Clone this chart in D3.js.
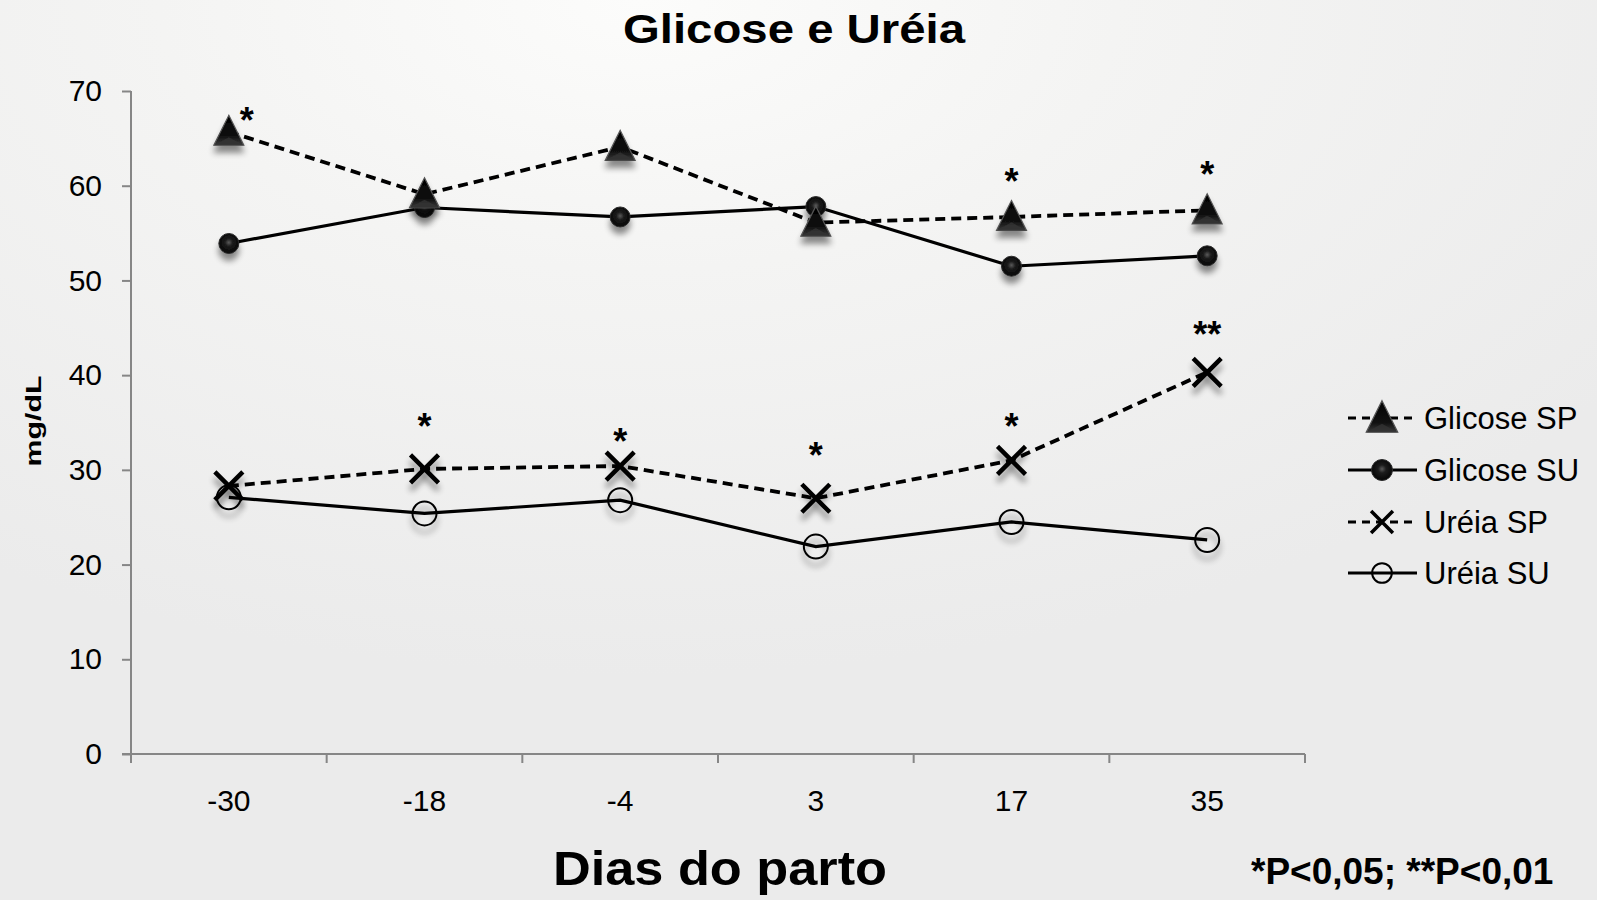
<!DOCTYPE html>
<html>
<head>
<meta charset="utf-8">
<script src="https://cdn.jsdelivr.net/npm/d3@7/dist/d3.min.js"></script>
<style>
  html, body { margin: 0; padding: 0; background: #ececec; }
  svg { display: block; }
  text { font-family: "Liberation Sans", Arial, Helvetica, sans-serif; fill: #000; }
</style>
</head>
<body>
<svg id="chart" width="1597" height="900"></svg>
<script>
// Days relative to calving
const days = ["-30", "-18", "-4", "3", "17", "35"];

// Mean concentrations (mg/dL)
const glicoseSP = [65.7, 59.1, 64.1, 56.1, 56.7, 57.4];
const glicoseSU = [53.9, 57.7, 56.7, 57.8, 51.5, 52.6];
const ureiaSP   = [28.3, 30.1, 30.4, 27.0, 31.0, 40.3];
const ureiaSU   = [27.1, 25.4, 26.8, 21.9, 24.5, 22.6];

const yTicks = [0, 10, 20, 30, 40, 50, 60, 70];

// Significance marks: day, height (mg/dL) and label
const sigDays   = ["-30", "17", "35", "-18", "-4", "3", "17", "35"];
const sigLevels = [67.6, 61.1, 61.9, 35.3, 33.7, 32.2, 35.3, 45.0];
const sigLabels = ["*", "*", "*", "*", "*", "*", "*", "**"];

const seriesNames = ["Glicose SP", "Glicose SU", "Uréia SP", "Uréia SU"];

const svg = d3.select("#chart");
const W = 1597, H = 900;

// ---- defs: background, marker shading, shadow ----
const defs = svg.append("defs");
const bg = defs.append("radialGradient").attr("id", "bg")
  .attr("cx", "40%").attr("cy", "0%").attr("r", "75%");
bg.append("stop").attr("offset", "0%").attr("stop-color", "#fcfcfb");
bg.append("stop").attr("offset", "40%").attr("stop-color", "#f4f4f3");
bg.append("stop").attr("offset", "100%").attr("stop-color", "#ebebeb");

const sphere = defs.append("radialGradient").attr("id", "sphere")
  .attr("cx", "50%").attr("cy", "45%").attr("r", "55%");
sphere.append("stop").attr("offset", "0%").attr("stop-color", "#5a5a5a");
sphere.append("stop").attr("offset", "35%").attr("stop-color", "#1c1c1c");
sphere.append("stop").attr("offset", "100%").attr("stop-color", "#050505");

const tri = defs.append("linearGradient").attr("id", "tri")
  .attr("x1", "0").attr("y1", "0").attr("x2", "0").attr("y2", "1");
tri.append("stop").attr("offset", "0%").attr("stop-color", "#000");
tri.append("stop").attr("offset", "70%").attr("stop-color", "#111");
tri.append("stop").attr("offset", "100%").attr("stop-color", "#3a3a3a");

const shadow = defs.append("filter").attr("id", "shadow")
  .attr("x", "-60%").attr("y", "-60%").attr("width", "220%").attr("height", "240%");
shadow.append("feGaussianBlur").attr("in", "SourceAlpha").attr("stdDeviation", 3.2).attr("result", "b");
shadow.append("feOffset").attr("in", "b").attr("dx", 0).attr("dy", 7).attr("result", "o");
shadow.append("feComponentTransfer").attr("in", "o").attr("result", "s")
  .append("feFuncA").attr("type", "linear").attr("slope", 0.45);
const merge = shadow.append("feMerge");
merge.append("feMergeNode").attr("in", "s");
merge.append("feMergeNode").attr("in", "SourceGraphic");

svg.append("rect").attr("width", W).attr("height", H).attr("fill", "url(#bg)");

// ---- scales ----
const x = d3.scaleBand().domain(days).range([131, 1305]).padding(0);
const y = d3.scaleLinear().domain([0, 70]).range([754, 91]);
const cx = d => x(d) + x.bandwidth() / 2;

// ---- axes ----
const axisColor = "#868686";
const yAxis = svg.append("g").attr("transform", "translate(131,0)")
  .call(d3.axisLeft(y).tickValues(yTicks).tickSize(9).tickPadding(20).tickFormat(d3.format("d")));
yAxis.select(".domain").attr("stroke", axisColor).attr("stroke-width", 2)
  .attr("d", `M0,${y(70)}V${y(0)}`);
yAxis.selectAll(".tick line").attr("stroke", axisColor).attr("stroke-width", 2);
yAxis.selectAll(".tick text").attr("font-size", 30).attr("font-family", "Liberation Sans, Arial, sans-serif")
  .attr("fill", "#000");

const xAxis = svg.append("g").attr("transform", `translate(0,${y(0)})`);
xAxis.append("line").attr("x1", 122).attr("x2", x.range()[1])
  .attr("stroke", axisColor).attr("stroke-width", 2);
const bounds = days.map(d => x(d)).concat([x.range()[1]]);
xAxis.selectAll(".xt").data(bounds).enter().append("line")
  .attr("x1", d => d).attr("x2", d => d).attr("y1", 0).attr("y2", 9)
  .attr("stroke", axisColor).attr("stroke-width", 2);
xAxis.selectAll(".xl").data(days).enter().append("text")
  .attr("x", d => cx(d)).attr("y", 57).attr("text-anchor", "middle")
  .attr("font-size", 30).text(d => d);

// ---- series ----
const series = [
  { name: seriesNames[1], values: glicoseSU, dash: null, marker: "sphere" },
  { name: seriesNames[0], values: glicoseSP, dash: "10,6", marker: "triangle" },
  { name: seriesNames[3], values: ureiaSU, dash: null, marker: "open" },
  { name: seriesNames[2], values: ureiaSP, dash: "10,6", marker: "cross" }
];

const line = d3.line().x((v, i) => cx(days[i])).y(v => y(v));

function drawMarker(g, type, scale) {
  const s = scale || 1;
  if (type === "triangle") {
    const h = 30 * s, w = 30 * s;
    g.append("path")
      .attr("d", `M0,${-h * 0.55}L${w / 2},${h * 0.45}L${-w / 2},${h * 0.45}Z`)
      .attr("fill", "url(#tri)").attr("stroke", "#555").attr("stroke-width", 1.2);
    g.append("path")
      .attr("d", `M0,${h * 0.18}L${w / 2},${h * 0.45}L${-w / 2},${h * 0.45}Z`)
      .attr("fill", "#333").attr("opacity", 0.8);
  } else if (type === "sphere") {
    g.append("circle").attr("r", 10 * s).attr("fill", "url(#sphere)")
      .attr("stroke", "#2a2a2a").attr("stroke-width", 1);
  } else if (type === "open") {
    g.append("circle").attr("r", 12 * s).attr("fill", "none")
      .attr("stroke", "#000").attr("stroke-width", 2);
  } else if (type === "cross") {
    const a = 14 * s;
    g.append("path").attr("d", `M${-a},${-a}L${a},${a}M${a},${-a}L${-a},${a}`)
      .attr("stroke", "#000").attr("stroke-width", Math.max(3.5, 4.5 * s)).attr("fill", "none");
  }
}

const linesG = svg.append("g");
series.forEach(s => {
  linesG.append("path").datum(s.values).attr("d", line)
    .attr("fill", "none").attr("stroke", "#000")
    .attr("stroke-width", s.dash ? 3.8 : 3.2)
    .attr("stroke-dasharray", s.dash);
});

const marksG = svg.append("g");
series.forEach(s => {
  s.values.forEach((v, i) => {
    const g = marksG.append("g")
      .attr("transform", `translate(${cx(days[i])},${y(v)})`)
      .attr("filter", "url(#shadow)");
    drawMarker(g, s.marker, 1);
  });
});

// ---- significance marks ----
svg.append("g").selectAll("text").data(sigLabels).enter().append("text")
  .attr("x", (d, i) => cx(sigDays[i]) + (i === 0 ? 18 : 0))
  .attr("y", (d, i) => y(sigLevels[i]) + 19)
  .attr("text-anchor", "middle").attr("font-size", 36).attr("font-weight", "bold")
  .text(d => d);

// ---- legend ----
const legendItems = [
  { name: seriesNames[0], dash: "8,6", marker: "triangle", s: 1.05 },
  { name: seriesNames[1], dash: null, marker: "sphere", s: 1.05 },
  { name: seriesNames[2], dash: "8,6", marker: "cross", s: 0.78 },
  { name: seriesNames[3], dash: null, marker: "open", s: 0.82 }
];
const rowY = [418, 470, 522, 573];
const leg = svg.append("g");
legendItems.forEach((it, i) => {
  const g = leg.append("g").attr("transform", `translate(0,${rowY[i]})`);
  g.append("line").attr("x1", 1348).attr("x2", 1417).attr("y1", 0).attr("y2", 0)
    .attr("stroke", "#000").attr("stroke-width", 3).attr("stroke-dasharray", it.dash);
  const m = g.append("g").attr("transform", "translate(1382,0)");
  drawMarker(m, it.marker, it.s);
  g.append("text").attr("x", 1424).attr("y", 11).attr("font-size", 31).text(it.name);
});

// ---- titles ----
svg.append("text").attr("x", 794).attr("y", 43).attr("text-anchor", "middle")
  .attr("font-size", 40).attr("font-weight", "bold")
  .attr("textLength", 342).attr("lengthAdjust", "spacingAndGlyphs")
  .text("Glicose e Uréia");

svg.append("text").attr("x", 720).attr("y", 885).attr("text-anchor", "middle")
  .attr("font-size", 48).attr("font-weight", "bold")
  .attr("textLength", 334).attr("lengthAdjust", "spacingAndGlyphs")
  .text("Dias do parto");

svg.append("text")
  .attr("transform", "translate(41,421) rotate(-90)")
  .attr("text-anchor", "middle").attr("font-size", 22).attr("font-weight", "bold")
  .attr("textLength", 91).attr("lengthAdjust", "spacingAndGlyphs")
  .text("mg/dL");

svg.append("text").attr("x", 1251).attr("y", 884)
  .attr("font-size", 37).attr("font-weight", "bold")
  .text("*P<0,05; **P<0,01");
</script>
</body>
</html>
